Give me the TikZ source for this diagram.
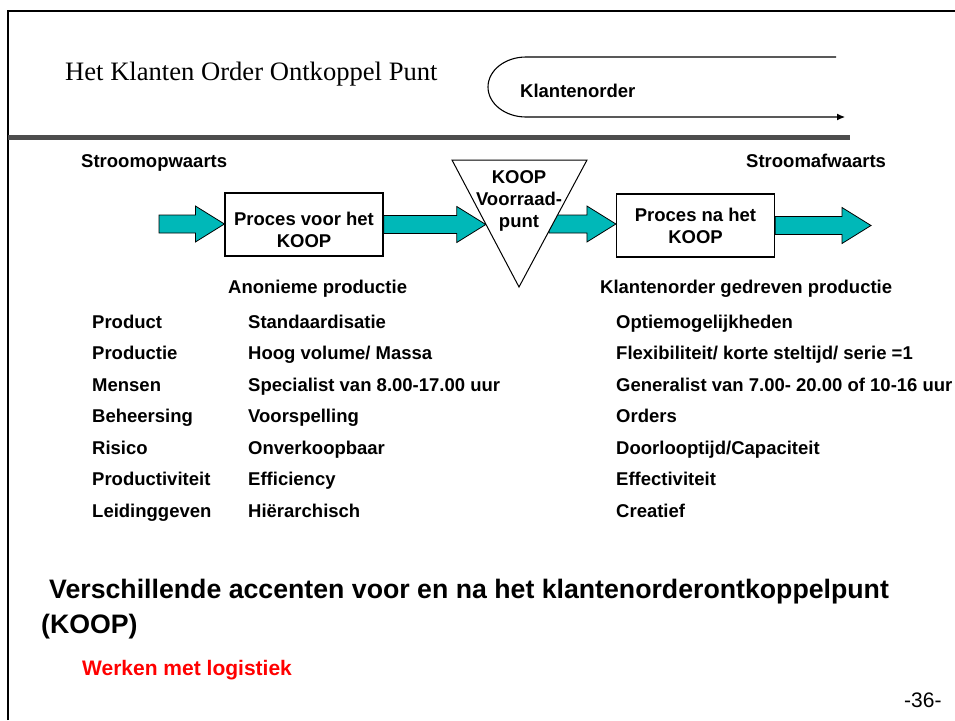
\documentclass[tikz,border=0pt]{standalone}
\usepackage{fontspec}
\setmainfont{Liberation Sans}
\newfontfamily\seriffont{Liberation Serif}
\usetikzlibrary{arrows.meta,calc}

\begin{document}
\begin{tikzpicture}[x=1pt,y=-1pt,
    txt/.style={font=\fontsize{18.5}{22}\selectfont\bfseries, inner sep=0pt, anchor=base west},
    procbox/.style={draw, line width=1.2pt, fill=white, minimum width=158, minimum height=63,
        align=center, inner sep=0pt, font=\fontsize{18.5}{22}\selectfont\bfseries}]
    % Colours
    \definecolor{flowteal}{RGB}{0,184,184}
    \definecolor{bardark}{RGB}{77,77,77}
    \definecolor{logred}{RGB}{255,0,0}

    % Parameters
    \def\shaft{9}     % half height of arrow shaft
    \def\head{18}     % half height of arrow head
    \def\headlen{29}  % length of arrow head

    % Block arrow: start, tip
    \newcommand{\flowarrow}[2]{
        \draw[fill=flowteal, line width=0.8pt, line join=miter]
            let \p1=(#1), \p2=(#2) in
            (\x1,\y1-\shaft) -- (\x2-\headlen,\y1-\shaft) -- (\x2-\headlen,\y1-\head)
            -- (\x2,\y1) -- (\x2-\headlen,\y1+\head) -- (\x2-\headlen,\y1+\shaft)
            -- (\x1,\y1+\shaft) -- cycle;
    }

    \useasboundingbox (0,0) rectangle (955,720);

    % Frame and header bar
    \draw[line width=2pt] (8,720) -- (8,10.5) -- (955,10.5);
    \fill[bardark] (8,135) rectangle (850,140);

    % Title
    \node[anchor=base west, inner sep=0pt, font=\seriffont\fontsize{26.6}{30}\selectfont]
        (title) at (65,80) {Het Klanten Order Ontkoppel Punt};

    % Klantenorder flow
    \draw[line width=1.1pt, -{Latex[length=8pt,width=7pt]}]
        (836,57) -- (526,57) arc[start angle=-90, end angle=-270, x radius=38, y radius=30]
        -- (845,117);
    \node[txt] (order) at (520,97) {Klantenorder};

    % Stream labels
    \node[txt] (up) at (81,167) {Stroomopwaarts};
    \node[txt] (down) at (746,167) {Stroomafwaarts};

    % Process boxes
    \node[procbox] (voor) at (304,224.5) {\rule{0pt}{24pt}Proces voor het\\KOOP};
    \node[procbox] (na) at (695.5,225.5) {Proces na het\\KOOP};

    % Decoupling point corners
    \coordinate (koop-tl) at (452,160);
    \coordinate (koop-tr) at (587,160);
    \coordinate (koop-b) at (519,287);
    \coordinate (koop-in) at ($(koop-tl)!0.504!(koop-b)$);
    \coordinate (koop-out) at (549,224);
    \coordinate (flow-in) at (159,224);
    \coordinate (flow-out) at (871,224);

    % Flow arrows
    \flowarrow{flow-in}{voor.west}
    \flowarrow{voor.east}{koop-in}
    \flowarrow{koop-out}{na.west}
    \flowarrow{na.east}{flow-out}

    % Decoupling point triangle
    \draw[fill=white, line width=1pt] (koop-tl) -- (koop-tr) -- (koop-b) -- cycle;
    \node[txt, anchor=center, align=center] (koop) at (519,201.4) {KOOP\\Voorraad-\\punt};

    % Production labels
    \node[txt] (anon) at (228,293) {Anonieme productie};
    \node[txt] (driven) at (600,293) {Klantenorder gedreven productie};

    % Table of accents
    \foreach \rowname/\rowvoor/\rowna [count=\i] in {
        Product/Standaardisatie/Optiemogelijkheden,
        Productie/{Hoog volume/ Massa}/{Flexibiliteit/ korte steltijd/ serie =1},
        Mensen/{Specialist van 8.00-17.00 uur}/{Generalist van 7.00- 20.00 of 10-16 uur},
        Beheersing/Voorspelling/Orders,
        Risico/Onverkoopbaar/{Doorlooptijd/Capaciteit},
        Productiviteit/Efficiency/Effectiviteit,
        Leidinggeven/Hiërarchisch/Creatief} {
        \pgfmathsetmacro\ry{328+(\i-1)*31.5}
        \node[txt] (row-\i) at (92,\ry) {\rowname};
        \node[txt] (voor-\i) at (248,\ry) {\rowvoor};
        \node[txt] (na-\i) at (616,\ry) {\rowna};
    }

    % Summary
    \node[txt, font=\fontsize{26.7}{32}\selectfont\bfseries] (sum1) at (49,598)
        {Verschillende accenten voor en na het klantenorderontkoppelpunt};
    \node[txt, font=\fontsize{26.7}{32}\selectfont\bfseries] (sum2) at (41,633) {(KOOP)};
    \node[txt, font=\fontsize{21}{25}\selectfont\bfseries, logred] (logi) at (82,675)
        {Werken met logistiek};
    \node[txt, font=\fontsize{21}{25}\selectfont] (page) at (904,707) {-36-};

\end{tikzpicture}
\end{document}
